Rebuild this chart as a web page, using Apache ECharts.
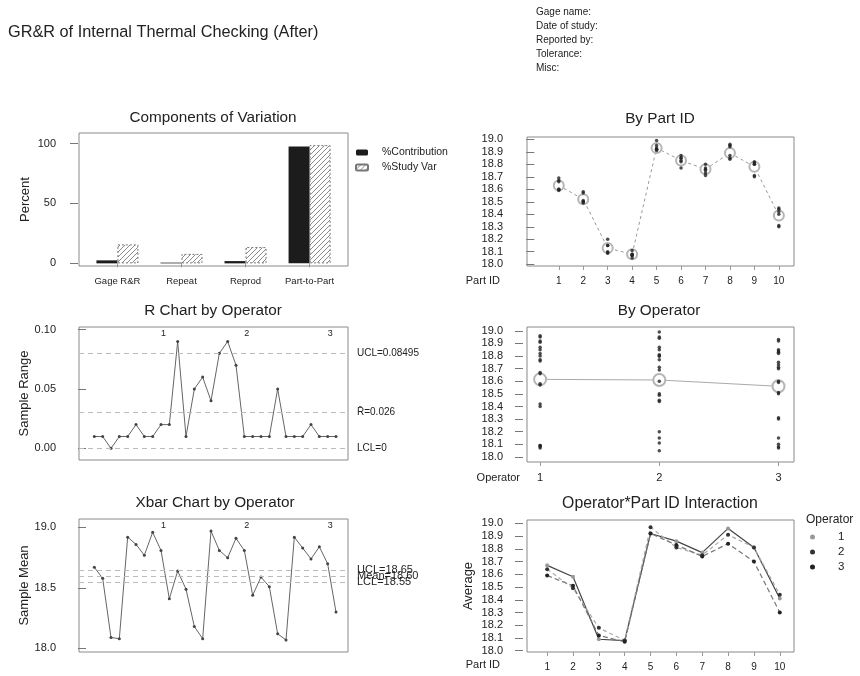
<!DOCTYPE html>
<html><head><meta charset="utf-8">
<script src="https://cdn.jsdelivr.net/npm/echarts@6.0.0/dist/echarts.min.js"></script>
<style>html,body{margin:0;padding:0;background:#fff}#c{width:860px;height:676px}</style>
</head><body><div id="c"></div>
<script>
// ---------- data ----------
const componentNames = ['Gage R&R', 'Repeat', 'Reprod', 'Part-to-Part'];
const pctContribution = [2.5, 0.6, 1.9, 97.5];
const pctStudyVar = [15.8, 7.9, 13.6, 98.7];

const partIds = [1, 2, 3, 4, 5, 6, 7, 8, 9, 10];
const operators = ['1', '2', '3'];

// individual measurements (2 trials per operator per part)
const op1Trial1 = [18.67, 18.58, 18.09, 18.08, 18.92, 18.87, 18.77, 18.96, 18.82, 18.42];
const op1Trial2 = [18.66, 18.57, 18.09, 18.07, 18.91, 18.85, 18.76, 18.95, 18.80, 18.40];
const op2Trial1 = [18.69, 18.49, 18.20, 18.11, 18.99, 18.85, 18.80, 18.94, 18.81, 18.44];
const op2Trial2 = [18.60, 18.50, 18.15, 18.05, 18.95, 18.77, 18.71, 18.87, 18.80, 18.45];
const op3Trial1 = [18.59, 18.51, 18.15, 18.07, 18.92, 18.83, 18.75, 18.84, 18.70, 18.30];
const op3Trial2 = [18.60, 18.50, 18.10, 18.08, 18.93, 18.82, 18.73, 18.85, 18.71, 18.31];

// subgroup means (Xbar chart / interaction plot)
const xbarOp1 = [18.67, 18.58, 18.09, 18.08, 18.92, 18.86, 18.77, 18.96, 18.81, 18.41];
const xbarOp2 = [18.64, 18.49, 18.18, 18.08, 18.97, 18.81, 18.75, 18.91, 18.81, 18.44];
const xbarOp3 = [18.59, 18.51, 18.12, 18.07, 18.92, 18.83, 18.74, 18.84, 18.70, 18.30];

// subgroup ranges (R chart)
const rangeOp1 = [0.01, 0.01, 0.00, 0.01, 0.01, 0.02, 0.01, 0.01, 0.02, 0.02];
const rangeOp2 = [0.09, 0.01, 0.05, 0.06, 0.04, 0.08, 0.09, 0.07, 0.01, 0.01];
const rangeOp3 = [0.01, 0.01, 0.05, 0.01, 0.01, 0.01, 0.02, 0.01, 0.01, 0.01];

const partMeans = [18.63, 18.52, 18.13, 18.08, 18.93, 18.83, 18.76, 18.89, 18.78, 18.39];
const operatorMeans = [18.615, 18.61, 18.56];

const rLimitValues = [0.08495, 0.026, 0];
const rLimitLabels = ['UCL=0.08495', 'R\u0304=0.026', 'LCL=0'];
const xbarLimitValues = [18.65, 18.60, 18.55];
const xbarLimitLabels = ['UCL=18.65', 'Mean=18.60', 'LCL=18.55'];

const pctTicks = [0, 50, 100];
const rangeTicks = [0, 0.05, 0.10];
const meanTicks = [18.0, 18.5, 19.0];
const measureTicks = [18.0, 18.1, 18.2, 18.3, 18.4, 18.5, 18.6, 18.7, 18.8, 18.9, 19.0];
const componentPositions = [1, 2, 3, 4];
const operatorPositions = [1, 2, 3];
const operatorLabelPositions = [9.3, 19.3, 29.3];

const headerLines = ['Gage name:', 'Date of study:', 'Reported by:', 'Tolerance:', 'Misc:'];

// ---------- styling helpers ----------
const FONT = 'Liberation Sans';
const TXT = '#222';
const FRAME = '#8a8a8a';

function hatch() {
  const c = document.createElement('canvas');
  c.width = 5; c.height = 5;
  const g = c.getContext('2d');
  g.fillStyle = '#fff'; g.fillRect(0, 0, 5, 5);
  g.strokeStyle = '#8a8a8a'; g.lineWidth = 1;
  g.beginPath();
  g.moveTo(-1, 6); g.lineTo(6, -1);
  g.moveTo(-1, 1); g.lineTo(1, -1);
  g.moveTo(4, 6); g.lineTo(6, 4);
  g.stroke();
  return c;
}
function nearestIndex(arr, v) {
  let best = 0;
  arr.forEach((a, i) => { if (Math.abs(a - v) < Math.abs(arr[best] - v)) best = i; });
  return best;
}
const labelOf = (positions, names) => v => names[nearestIndex(positions, v)];

const grids = [
  {left: 79, top: 133, width: 269, height: 133},
  {left: 527, top: 137, width: 267, height: 129},
  {left: 79, top: 327, width: 269, height: 133},
  {left: 527, top: 327, width: 267, height: 135},
  {left: 79, top: 519, width: 269, height: 133},
  {left: 527, top: 520, width: 267, height: 132}
].map(g => Object.assign({show: true, borderColor: FRAME, borderWidth: 1, backgroundColor: 'transparent', containLabel: false}, g));

function xAx(gridIndex, min, max, ticks, fmt, fontSize, margin, extra) {
  return Object.assign({
    type: 'value', gridIndex, min, max,
    axisLine: {show: false}, splitLine: {show: false},
    axisTick: ticks ? {show: true, customValues: ticks, length: 4, lineStyle: {color: '#999'}} : {show: false},
    axisLabel: ticks ? {show: true, customValues: ticks, formatter: fmt, color: TXT, fontSize: fontSize || 10, fontFamily: FONT, margin: margin || 10} : {show: false}
  }, extra || {});
}
function topLabelAxis(gridIndex, min, max) {
  return {
    type: 'value', gridIndex, min, max, position: 'top',
    axisLine: {show: false}, splitLine: {show: false}, axisTick: {show: false},
    axisLabel: {show: true, inside: true, customValues: operatorLabelPositions,
      formatter: labelOf(operatorLabelPositions, operators), fontSize: 9, color: TXT, fontFamily: FONT, margin: 2}
  };
}
function yAx(gridIndex, min, max, ticks, fmt, name, nameGap, offset, margin) {
  return {
    type: 'value', gridIndex, min, max, offset: offset,
    axisLine: {show: false}, splitLine: {show: false},
    axisTick: {show: true, customValues: ticks, length: 8, lineStyle: {color: '#777'}},
    axisLabel: {show: true, customValues: ticks, formatter: fmt, color: TXT, fontSize: 11, fontFamily: FONT, margin: margin},
    name: name || '', nameLocation: 'middle', nameGap: nameGap || 0,
    nameTextStyle: {fontSize: 13, fontFamily: FONT, color: TXT}
  };
}
const f1 = v => v.toFixed(1);
const f2 = v => v.toFixed(2);

const xAxes = [
  xAx(0, 0.4, 4.6, componentPositions, labelOf(componentPositions, componentNames), 9.5, 10),
  xAx(1, -0.3, 10.62, partIds, v => String(v)),
  xAx(2, -0.84, 31.44, null),
  topLabelAxis(2, -0.84, 31.44),
  xAx(3, 0.89, 3.13, operatorPositions, labelOf(operatorPositions, operators), 11, 10),
  xAx(4, -0.84, 31.44, null),
  topLabelAxis(4, -0.84, 31.44),
  xAx(5, 0.22, 10.55, partIds, v => String(v))
];
const yAxes = [
  yAx(0, -2.2, 108.8, pctTicks, v => String(v), 'Percent', 46, 1, 22),
  yAx(1, 17.986, 19.018, measureTicks, f1, '', 0, 4, 20),
  yAx(2, -0.0098, 0.1022, rangeTicks, f2, 'Sample Range', 46, 1, 22),
  yAx(3, 17.96, 19.03, measureTicks, f1, '', 0, 4, 20),
  yAx(4, 17.97, 19.07, meanTicks, f1, 'Sample Mean', 46, 1, 22),
  yAx(5, 17.99, 19.026, measureTicks, f1, 'Average', 48, 4, 20)
];

// ---------- series ----------
const series = [];
series.push({
  name: '%Contribution', type: 'bar', xAxisIndex: 0, yAxisIndex: 0,
  data: pctContribution.map((v, i) => [componentPositions[i], v]),
  barWidth: 21, barGap: '0%', itemStyle: {color: '#1c1c1c'}
});
series.push({
  name: '%Study Var', type: 'bar', xAxisIndex: 0, yAxisIndex: 0,
  data: pctStudyVar.map((v, i) => [componentPositions[i], v]),
  barWidth: 21, barGap: '0%',
  itemStyle: {color: {image: hatch(), repeat: 'repeat'}, borderColor: '#777', borderWidth: 1, borderType: [2, 2]}
});

const trials = [op1Trial1, op1Trial2, op2Trial1, op2Trial2, op3Trial1, op3Trial2];
const trialOp = [0, 0, 1, 1, 2, 2];

// By Part ID
series.push({
  type: 'line', xAxisIndex: 1, yAxisIndex: 1, z: 2,
  data: partMeans.map((v, i) => [partIds[i], v]),
  symbol: 'emptyCircle', symbolSize: 10, showSymbol: true,
  lineStyle: {color: '#999', width: 1, type: [3, 3]},
  itemStyle: {color: '#b5b5b5', borderColor: '#b5b5b5', borderWidth: 1}
});
series.push({
  type: 'scatter', xAxisIndex: 1, yAxisIndex: 1, z: 3,
  data: trials.flatMap(t => t.map((v, i) => [partIds[i], v])),
  symbolSize: 3.5, itemStyle: {color: '#222'}
});

// By Operator
series.push({
  type: 'line', xAxisIndex: 4, yAxisIndex: 3, z: 2,
  data: operatorMeans.map((v, i) => [operatorPositions[i], v]),
  symbol: 'emptyCircle', symbolSize: 12, showSymbol: true,
  lineStyle: {color: '#aaa', width: 1},
  itemStyle: {color: '#b5b5b5', borderColor: '#b5b5b5', borderWidth: 1}
});
series.push({
  type: 'scatter', xAxisIndex: 4, yAxisIndex: 3, z: 3,
  data: trials.flatMap((t, k) => t.map(v => [operatorPositions[trialOp[k]], v])),
  symbolSize: 3.5, itemStyle: {color: '#222'}
});

// R chart
const ranges = rangeOp1.concat(rangeOp2, rangeOp3);
const markLineStyle = {color: '#bbb', width: 1, type: [5, 4]};
series.push({
  type: 'line', xAxisIndex: 2, yAxisIndex: 2,
  data: ranges.map((v, i) => [i + 1, v]),
  symbol: 'circle', symbolSize: 3, itemStyle: {color: '#444'},
  lineStyle: {color: '#666', width: 1},
  markLine: {
    silent: true, symbol: ['none', 'none'], lineStyle: markLineStyle,
    label: {position: 'end', distance: 9, color: TXT, fontSize: 10, fontFamily: FONT},
    data: rLimitValues.map((v, i) => ({yAxis: v, label: {formatter: rLimitLabels[i]}}))
  }
});

// Xbar chart
const means = xbarOp1.concat(xbarOp2, xbarOp3);
series.push({
  type: 'line', xAxisIndex: 5, yAxisIndex: 4,
  data: means.map((v, i) => [i + 1, v]),
  symbol: 'circle', symbolSize: 3, itemStyle: {color: '#444'},
  lineStyle: {color: '#666', width: 1},
  markLine: {
    silent: true, symbol: ['none', 'none'], lineStyle: markLineStyle,
    label: {position: 'end', distance: 9, color: TXT, fontSize: 11, fontFamily: FONT},
    data: xbarLimitValues.map((v, i) => ({yAxis: v, label: {formatter: xbarLimitLabels[i]}}))
  }
});

// Interaction
const interStyles = [
  {line: {color: '#444', width: 1.2, type: 'solid'}, item: '#999'},
  {line: {color: '#aaa', width: 1.2, type: [4, 3]}, item: '#333'},
  {line: {color: '#777', width: 1.2, type: [5, 3]}, item: '#222'}
];
[xbarOp1, xbarOp2, xbarOp3].forEach((arr, k) => {
  series.push({
    name: operators[k], type: 'line', xAxisIndex: 7, yAxisIndex: 5,
    data: arr.map((v, i) => [partIds[i], v]),
    symbol: 'circle', symbolSize: 4,
    lineStyle: interStyles[k].line, itemStyle: {color: interStyles[k].item}
  });
});

// ---------- text ----------
function txt(text, x, y, size, align, extra) {
  return {type: 'text', x, y, silent: true, style: Object.assign({
    text, fill: TXT, font: size + 'px "' + FONT + '"', textAlign: align || 'left', textVerticalAlign: 'middle'
  }, extra || {})};
}
const graphics = [
  txt('GR&R of Internal Thermal Checking (After)', 8, 33, 16.3),
  txt('Components of Variation', 213, 118, 15.3, 'center'),
  txt('By Part ID', 660, 119, 15.3, 'center'),
  txt('R Chart by Operator', 213, 311, 15.3, 'center'),
  txt('By Operator', 659, 311, 15.3, 'center'),
  txt('Xbar Chart by Operator', 215, 503, 15.3, 'center'),
  txt('Operator*Part ID Interaction', 660, 504, 15.8, 'center'),
  txt('Part ID', 500, 281, 11, 'right'),
  txt('Operator', 520, 478, 11, 'right'),
  txt('Part ID', 500, 665, 11, 'right'),
  txt('Operator', 806, 520, 12, 'left')
];
headerLines.forEach((h, i) => graphics.push(txt(h, 536, 12 + i * 14, 10, 'left')));

const option = {
  animation: false,
  backgroundColor: '#fff',
  textStyle: {fontFamily: FONT},
  grid: grids,
  xAxis: xAxes,
  yAxis: yAxes,
  legend: [
    {data: ['%Contribution', '%Study Var'], orient: 'vertical', left: 355, top: 147, padding: 0,
     itemWidth: 12, itemHeight: 6, itemGap: 4, selectedMode: false,
     textStyle: {fontSize: 10.5, color: TXT, fontFamily: FONT, padding: [0, 0, 0, 9]}},
    {data: operators, orient: 'vertical', left: 810, top: 531, padding: 0, icon: 'circle',
     itemWidth: 5, itemHeight: 5, itemGap: 3, selectedMode: false,
     textStyle: {fontSize: 11.5, color: TXT, fontFamily: FONT, padding: [0, 0, 0, 18]}}
  ],
  graphic: graphics,
  series
};
const chart = echarts.init(document.getElementById('c'), null, {renderer: 'canvas'});
chart.setOption(option);
</script></body></html>
